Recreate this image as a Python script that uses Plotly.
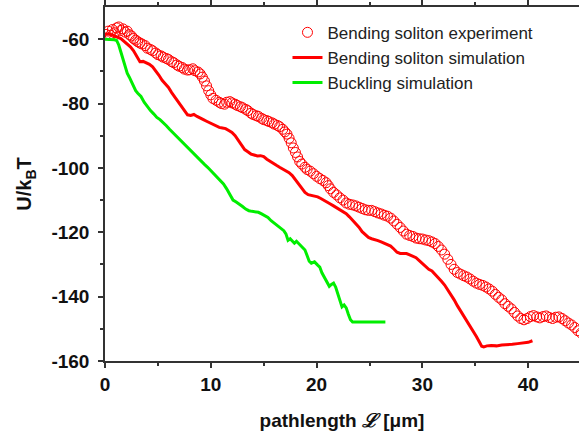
import plotly.graph_objects as go

# Bending soliton experiment (open circles)
exp_x = [0.1, 0.3, 0.5, 0.7, 0.9, 1.1, 1.3, 1.5, 1.7, 1.9, 2.1, 2.3, 2.5, 2.7, 2.9, 3.1, 3.3, 3.5, 3.8, 4.0,
         4.3, 4.5, 4.8, 5.0, 5.3, 5.5, 5.8, 6.0, 6.3, 6.5, 6.8, 7.0, 7.3, 7.5, 7.8, 8.0, 8.3, 8.5, 8.8, 9.0,
         9.2, 9.4, 9.6, 9.8, 10.0, 10.2, 10.5, 10.8, 11.0, 11.3, 11.5, 11.8, 12.0, 12.3, 12.5, 12.8, 13.0, 13.3, 13.5, 13.8,
         14.0, 14.3, 14.5, 14.8, 15.0, 15.3, 15.5, 15.8, 16.0, 16.3, 16.5, 16.8, 17.0, 17.2, 17.4, 17.6, 17.8, 18.0, 18.2, 18.4,
         18.6, 18.9, 19.1, 19.4, 19.7, 20.0, 20.3, 20.6, 20.9, 21.1, 21.3, 21.6, 21.9, 22.2, 22.5, 22.8, 23.1, 23.4, 23.7, 24.0,
         24.3, 24.6, 24.9, 25.2, 25.5, 25.8, 26.1, 26.4, 26.7, 27.0, 27.3, 27.6, 27.9, 28.2, 28.5, 28.8, 29.1, 29.4, 29.7, 30.0,
         30.3, 30.6, 30.9, 31.2, 31.5, 31.8, 32.1, 32.4, 32.7, 33.0, 33.3, 33.6, 33.9, 34.2, 34.5, 34.8, 35.1, 35.4, 35.7, 36.0,
         36.3, 36.6, 36.9, 37.2, 37.5, 37.8, 38.1, 38.4, 38.7, 39.0, 39.3, 39.6, 39.9, 40.2, 40.5, 40.8, 41.1, 41.4, 41.7, 42.0,
         42.3, 42.6, 42.9, 43.2, 43.5, 43.8, 44.1, 44.4, 44.7, 45.0]
exp_y = [-58.5, -57.5, -58.8, -57.0, -58.0, -56.5, -56.2, -57.3, -56.8, -57.8, -57.5, -58.6, -59.0, -59.8, -60.3, -60.8, -61.2, -61.5, -62.0, -62.8,
         -63.2, -63.6, -64.3, -64.8, -65.2, -65.6, -66.0, -66.3, -67.0, -67.3, -68.0, -68.4, -68.8, -69.3, -69.6, -69.5, -69.2, -69.8, -70.2, -70.8,
         -71.8, -73.0, -74.5, -76.0, -77.3, -78.4, -79.0, -79.6, -80.0, -80.2, -79.6, -79.4, -79.8, -80.2, -80.6, -81.0, -81.3, -81.8, -82.2, -83.0,
         -83.4, -83.8, -84.0, -84.6, -85.0, -85.3, -85.6, -86.0, -86.4, -86.8, -87.2, -88.0, -88.8, -89.5, -90.8, -92.2, -93.8, -95.2, -96.6, -98.0,
         -98.8, -99.8, -100.5, -101.0, -101.8, -102.6, -103.3, -103.9, -104.6, -105.5, -106.5, -107.6, -108.4, -109.3, -110.0, -110.9, -111.3, -111.5, -111.8, -112.2,
         -112.6, -113.0, -113.2, -113.2, -113.6, -114.0, -114.3, -114.7, -115.0, -115.6, -116.5, -117.5, -118.5, -119.6, -120.6, -121.0, -121.3, -121.8, -122.0, -122.1,
         -122.4, -122.6, -123.0, -123.5, -124.4, -125.5, -126.8, -128.4, -130.0, -131.5, -132.5, -133.0, -133.5, -133.9, -134.5, -135.2, -135.8, -136.2, -136.5, -137.0,
         -137.6, -138.3, -139.3, -140.2, -141.0, -142.2, -143.0, -143.8, -144.9, -146.0, -146.8, -147.2, -146.8, -146.2, -145.9, -146.3, -146.6, -146.2, -146.0, -146.5,
         -146.8, -146.4, -146.3, -146.8, -147.5, -148.2, -148.8, -149.6, -150.6, -151.3]

# Bending soliton simulation (red line)
sim_x = [0.0, 0.3, 0.6, 0.9, 1.2, 1.5, 1.8, 2.1, 2.4, 2.7, 2.9, 3.1, 3.3, 3.6, 3.9, 4.2, 4.5, 4.8, 5.1, 5.4,
         5.7, 6.0, 6.3, 6.6, 6.9, 7.2, 7.5, 7.8, 8.1, 8.4, 8.7, 9.0, 9.3, 9.6, 9.9, 10.2, 10.5, 10.8, 11.1, 11.4,
         11.7, 12.0, 12.3, 12.6, 12.9, 13.2, 13.5, 13.8, 14.1, 14.4, 14.7, 15.0, 15.3, 15.6, 15.9, 16.2, 16.5, 16.8, 17.1, 17.4,
         17.7, 18.0, 18.3, 18.6, 18.9, 19.2, 19.5, 19.8, 20.1, 20.4, 20.7, 21.0, 21.3, 21.6, 21.9, 22.2, 22.5, 22.8, 23.1, 23.4,
         23.7, 24.0, 24.3, 24.6, 24.9, 25.2, 25.5, 25.8, 26.1, 26.4, 26.7, 27.0, 27.3, 27.6, 27.9, 28.2, 28.5, 28.8, 29.1, 29.4,
         29.7, 30.0, 30.3, 30.6, 30.9, 31.2, 31.5, 31.8, 32.1, 32.4, 32.7, 33.0, 33.3, 33.6, 33.9, 34.2, 34.5, 34.8, 35.1, 35.4,
         35.6, 35.8, 36.1, 36.5, 37.0, 37.5, 38.0, 38.5, 39.0, 39.5, 40.0, 40.4]
sim_y = [-58.5, -58.3, -58.6, -58.9, -59.4, -59.8, -60.6, -61.5, -62.4, -63.6, -64.8, -66.2, -67.0, -66.9, -67.4, -67.8, -68.6, -69.8, -71.2, -72.8,
         -74.0, -75.0, -76.6, -78.0, -79.4, -80.8, -82.2, -83.5, -83.7, -83.4, -84.0, -84.6, -85.0, -85.5, -86.0, -86.5, -86.9, -87.4, -87.6, -87.8,
         -88.4, -89.0, -90.0, -91.4, -93.0, -94.3, -95.0, -95.7, -96.0, -96.3, -96.2, -96.5, -97.3, -98.0, -98.6, -99.2, -99.8, -100.4, -100.9, -101.5,
         -102.4, -103.8, -105.0, -106.4, -107.6, -108.3, -108.5, -108.6, -109.0, -109.5, -110.0, -110.5, -111.2, -111.8, -112.4, -113.1, -113.6, -114.2, -115.2, -116.2,
         -117.2, -118.4, -119.8, -120.8, -121.6, -122.0, -122.2, -122.6, -123.0, -123.4, -123.8, -124.3, -125.2, -126.2, -126.6, -126.5, -126.6, -127.0, -127.4, -127.9,
         -128.8, -129.8, -130.8, -131.5, -132.0, -133.0, -134.0, -135.2, -136.4, -137.8, -139.4, -141.0, -142.8, -144.4, -145.6, -147.2, -149.0, -150.6, -152.4, -154.2,
         -155.4, -155.6, -155.3, -155.2, -155.3, -155.0, -155.0, -154.8, -154.6, -154.5, -154.2, -153.7]

# Buckling simulation (green line)
buck_x = [0.0, 0.3, 0.6, 0.9, 1.1, 1.3, 1.5, 1.7, 1.9, 2.1, 2.3, 2.5, 2.7, 2.9, 3.1, 3.4, 3.7, 4.0, 4.3, 4.6,
          4.9, 5.2, 5.5, 5.8, 6.1, 6.4, 6.7, 7.0, 7.3, 7.6, 7.9, 8.2, 8.5, 8.8, 9.1, 9.4, 9.7, 10.0, 10.3, 10.6,
          10.9, 11.2, 11.5, 11.8, 12.1, 12.4, 12.7, 13.0, 13.3, 13.6, 13.9, 14.2, 14.5, 14.8, 15.1, 15.4, 15.7, 16.0, 16.3, 16.6,
          16.9, 17.1, 17.3, 17.5, 17.7, 17.9, 18.1, 18.4, 18.7, 18.9, 19.1, 19.3, 19.5, 19.8, 20.1, 20.3, 20.5, 20.8, 21.0, 21.2,
          21.4, 21.6, 21.8, 22.0, 22.2, 22.4, 22.6, 22.8, 23.0, 23.2, 23.4, 23.8, 24.5, 25.2, 25.9, 26.5]
buck_y = [-60.0, -60.0, -60.1, -60.2, -60.4, -61.8, -64.0, -66.5, -68.8, -70.6, -71.8, -73.2, -74.8, -76.0, -76.8, -77.8, -79.6, -81.0, -82.2, -83.2,
          -84.3, -85.0, -85.8, -86.9, -88.0, -89.0, -90.0, -91.2, -92.2, -93.0, -93.9, -95.0, -96.2, -97.2, -98.0, -98.9, -99.8, -100.8, -101.8, -102.8,
          -103.8, -105.0, -106.5, -108.2, -110.0, -110.6, -111.2, -112.0, -112.8, -113.3, -113.5, -113.6, -113.8, -114.3, -114.8, -115.4, -116.4, -117.2, -117.8, -118.8,
          -119.5, -120.5, -122.5, -122.0, -122.8, -123.4, -122.8, -123.8, -124.8, -125.5, -127.2, -129.0, -129.6, -129.2, -130.2, -130.8, -132.6, -134.6, -135.6, -136.8,
          -136.2, -135.8, -137.0, -139.0, -141.5, -143.2, -142.6, -143.5, -145.5, -147.2, -147.9, -147.9, -147.9, -147.9, -147.9, -147.9]

x_ticks = [0, 10, 20, 30, 40]
x_ticktext = ["0", "10", "20", "30", "40"]
y_ticks = [-60, -80, -100, -120, -140, -160]
y_ticktext = ["-60", "-80", "-100", "-120", "-140", "-160"]

RED = "#ff0000"
GREEN = "#00ee00"
AX = "#333333"
FONT = "Liberation Sans, Arial, sans-serif"

fig = go.Figure()
fig.add_trace(go.Scatter(
    x=exp_x, y=exp_y, mode="markers", name="Bending soliton experiment",
    marker=dict(symbol="circle-open", size=10, color=RED, line=dict(width=1, color=RED)),
))
fig.add_trace(go.Scatter(
    x=sim_x, y=sim_y, mode="lines", name="Bending soliton simulation",
    line=dict(color=RED, width=3),
))
fig.add_trace(go.Scatter(
    x=buck_x, y=buck_y, mode="lines", name="Buckling simulation",
    line=dict(color=GREEN, width=3),
))

fig.update_layout(
    width=579, height=435,
    margin=dict(l=105, r=0, t=7, b=74, autoexpand=False),
    paper_bgcolor="white", plot_bgcolor="white",
    font=dict(family=FONT, color="#111111"),
    showlegend=True,
    legend=dict(x=0.385, y=0.978, xanchor="left", yanchor="top",
                bgcolor="rgba(0,0,0,0)", font=dict(size=17, color="#222222", family=FONT),
                tracegroupgap=0, itemwidth=30),
    xaxis=dict(
        range=[0, 44.8], tickvals=x_ticks, ticktext=x_ticktext, ticks="outside", ticklen=5, tickwidth=1.5, tickcolor=AX,
        showline=True, linecolor=AX, linewidth=1.5, mirror="ticks", showgrid=False, zeroline=False,
        tickfont=dict(size=19, family=FONT, weight="bold", color="#111111"),
        minor=dict(tickvals=[5, 15, 25, 35], ticks="outside", ticklen=3, tickwidth=1.5, tickcolor=AX),
        title=dict(text="pathlength <i>ℒ</i> [μm]", font=dict(size=19, family=FONT, weight="bold", color="#111111"), standoff=20),
    ),
    yaxis=dict(
        range=[-160, -50], tickvals=y_ticks, ticktext=y_ticktext, ticks="outside", ticklen=5, tickwidth=1.5, tickcolor=AX,
        showline=True, linecolor=AX, linewidth=1.5, mirror=False, showgrid=False, zeroline=False,
        ticklabelstandoff=5,
        tickfont=dict(size=19, family=FONT, weight="bold", color="#111111"),
        minor=dict(tickvals=[-70, -90, -110, -130, -150], ticks="outside", ticklen=3, tickwidth=1.5, tickcolor=AX),
        title=dict(text="U/k<sub>B</sub>T", font=dict(size=20, family=FONT, weight="bold", color="#111111"), standoff=14),
    ),
)

fig.write_html("out.html")
